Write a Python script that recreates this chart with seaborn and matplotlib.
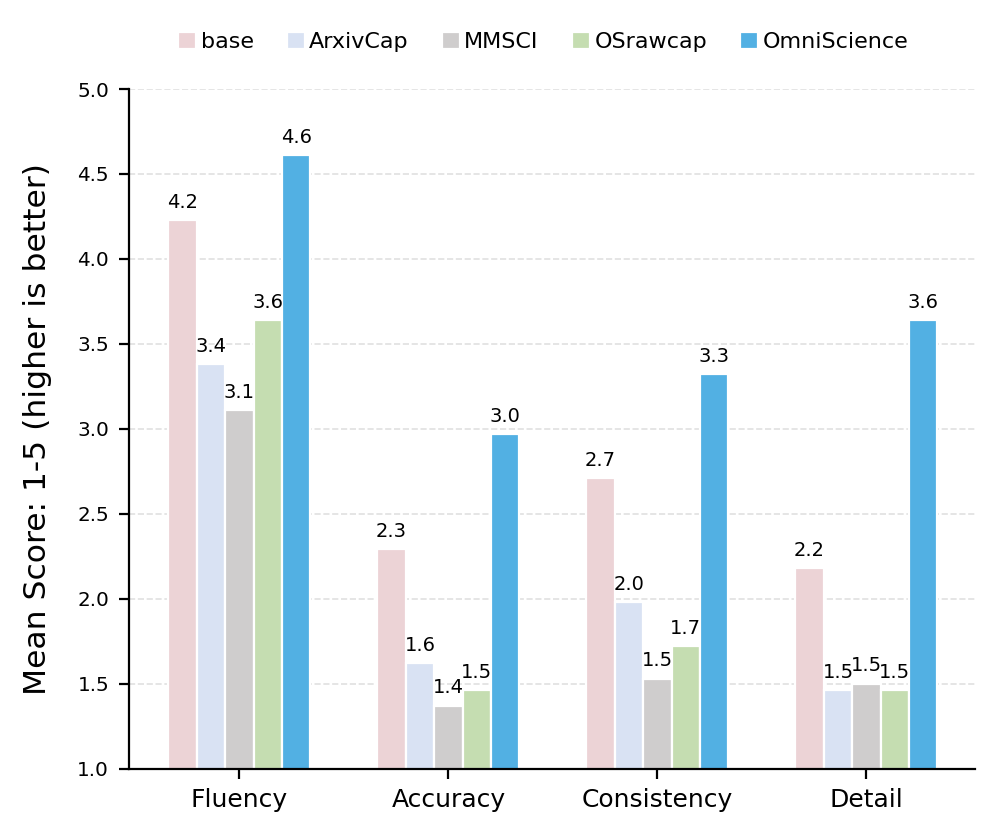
import pandas as pd
import matplotlib.pyplot as plt
import seaborn as sns
import numpy as np

# Datos
metrics = ['Fluency', 'Accuracy', 'Consistency', 'Detail']
models = ['base', 'ArxivCap', 'MMSCI', 'OSrawcap', 'OmniScience']
base = [4.23, 2.29, 2.71, 2.18]
arxivcap = [3.38, 1.62, 1.98, 1.46]
mmsci = [3.11, 1.37, 1.53, 1.50]
osrawcap = [3.64, 1.46, 1.72, 1.46]
omniscience = [4.61, 2.97, 3.32, 3.64]
colors = ['#ecd3d6', '#d9e2f3', '#cfcdcd', '#c5ddb1', '#52b0e3']

sns.set_theme(style="ticks")
plt.rcParams['font.family'] = ['DejaVu Sans']
plt.rcParams.update({'text.color': 'black', 'axes.labelcolor': 'black',
                     'xtick.color': 'black', 'ytick.color': 'black'})

scores = [base, arxivcap, mmsci, osrawcap, omniscience]
rows = []
for model, vals in zip(models, scores):
    for metric, v in zip(metrics, vals):
        rows.append({'Metric': metric, 'Model': model, 'Score': v})
df = pd.DataFrame(rows)

fig, ax = plt.subplots(figsize=(4.985, 4.2), dpi=200)
fig.subplots_adjust(left=0.129, right=0.978, top=0.894, bottom=0.085)

sns.barplot(data=df, x='Metric', y='Score', hue='Model', order=metrics,
            hue_order=models, palette=colors, saturation=1, width=0.68, gap=0,
            edgecolor='white', linewidth=0.8, ax=ax)

# Etiquetas de valor sobre cada barra
for container in ax.containers:
    ax.bar_label(container, fmt='%.1f', padding=3, fontsize=7, color='black')

ax.set_xlim(-0.53, 3.52)
ax.set_ylim(1.0, 5.0)
ax.set_yticks(np.arange(1.0, 5.01, 0.5))
ax.set_xlabel('')
ax.set_ylabel('Mean Score: 1-5 (higher is better)', fontsize=11.3, labelpad=9)
ax.tick_params(axis='x', labelsize=9, width=0.8, length=3.5, color='black')
ax.tick_params(axis='y', labelsize=7.2, width=0.8, length=3.5, color='black')
ax.yaxis.grid(True, linestyle='--', color='#d9d9d9', linewidth=0.6, alpha=0.8)
ax.set_axisbelow(True)
for side in ['top', 'right']:
    ax.spines[side].set_visible(False)
for side in ['left', 'bottom']:
    ax.spines[side].set_color('black')
    ax.spines[side].set_linewidth(0.8)

ax.legend(loc='lower center', bbox_to_anchor=(0.49, 1.025), ncol=5,
          frameon=False, fontsize=8, handlelength=0.8, handleheight=0.8,
          handletextpad=0.2, columnspacing=1.5)

plt.savefig('out.png', dpi=200)
